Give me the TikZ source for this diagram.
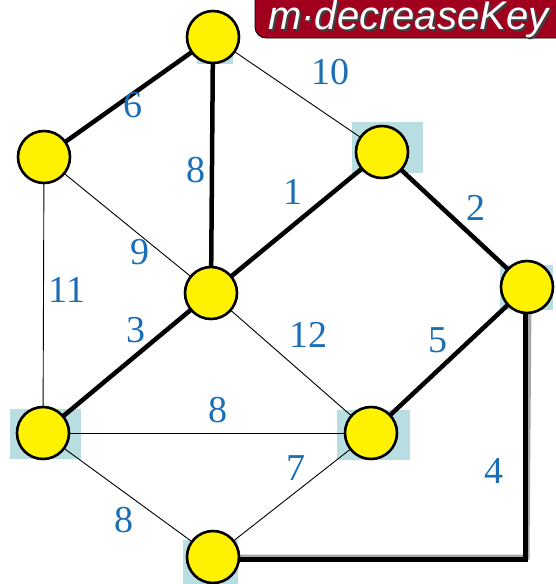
\documentclass[tikz,border=0pt]{standalone}
\usepackage{fontspec}
\setmainfont{Liberation Serif}
\newfontfamily\titlefont{Liberation Sans}
\begin{document}
\begin{tikzpicture}[x=1pt,y=-1pt,
  vert/.style={circle,draw=black,line width=2.6pt,fill=yellow,minimum size=52pt,inner sep=0pt},
  thin edge/.style={line width=0.9pt,draw=black},
  thick edge/.style={line width=4.5pt,draw=black},
  wt/.style={text=wcol,font=\fontsize{38}{38}\selectfont,inner sep=0pt}]
\definecolor{wcol}{RGB}{26,110,181}
\definecolor{hlcol}{RGB}{185,222,226}
\definecolor{titlered}{RGB}{160,0,30}
\useasboundingbox (0,0) rectangle (556,584);
\begin{scope}
\clip (0,0) rectangle (556,584);
% title
\draw[fill=titlered,draw=black,line width=0.8pt,rounded corners=11pt] (255,-20) rectangle (580,38);
\node[anchor=base west,text=white,font=\titlefont\itshape\fontsize{40}{40}\selectfont,inner sep=0pt] (title) at (268,29)
  {\makebox[0pt][l]{\hspace{2pt}\raisebox{-2pt}{\color{black!75}m·decreaseKey}}m·decreaseKey};
% highlight rects
\fill[hlcol] (352,122) rectangle (423,173);
\fill[hlcol] (10,409) rectangle (81,459);
\fill[hlcol] (337,410) rectangle (410,460);
\fill[hlcol] (183,540) rectangle (238,584);
\fill[hlcol] (500,265) rectangle (553,310);
\fill[hlcol] (197,30) rectangle (233,64);
% coordinates
\coordinate (T) at (213,37);
\coordinate (UL) at (44,157);
\coordinate (UR) at (382,152);
\coordinate (C) at (211,293);
\coordinate (R) at (527,287);
\coordinate (LL) at (43,433);
\coordinate (LR) at (371,433);
\coordinate (B) at (213,557);
\coordinate (corner) at (525,559);
% edges
\draw[thin edge] (T) -- (UR);
\draw[thin edge] (UL) -- (C);
\draw[thin edge] (UL) -- (LL);
\draw[thin edge] (C) -- (LR);
\draw[thin edge] (LL) -- (LR);
\draw[thin edge] (LL) -- (B);
\draw[thin edge] (LR) -- (B);
\draw[thick edge] (T) -- (UL);
\draw[thick edge] (T) -- (C);
\draw[thick edge] (UR) -- (C);
\draw[thick edge] (UR) -- (R);
\draw[thick edge] (C) -- (LL);
\draw[thick edge] (R) -- (LR);
\draw[line width=5pt,draw=black!35] ([xshift=2pt,yshift=2pt]B |- corner) -- ([xshift=2pt,yshift=2pt]corner) -- ([xshift=2pt]R |- 0,300);
\draw[thick edge,line width=5pt] (B |- corner) -- (corner) -- (corner |- R);
% vertices
\node[vert] (nT) at (T) {};
\node[vert] (nUL) at (UL) {};
\node[vert] (nUR) at (UR) {};
\node[vert] (nC) at (C) {};
\node[vert] (nR) at (R) {};
\node[vert] (nLL) at (LL) {};
\node[vert] (nLR) at (LR) {};
\node[vert] (nB) at (B) {};
% weights
\node[wt] (w1) at (133,105) {6};
\node[wt] (w2) at (330,72) {10};
\node[wt] (w3) at (196,170) {8};
\node[wt] (w4) at (293,192) {1};
\node[wt] (w5) at (476,208) {2};
\node[wt] (w6) at (140,252) {9};
\node[wt] (w7) at (67,290) {11};
\node[wt] (w8) at (136,330) {3};
\node[wt] (w9) at (308,335) {12};
\node[wt] (w10) at (438,340) {5};
\node[wt] (w11) at (218,410) {8};
\node[wt] (w12) at (296,468) {7};
\node[wt] (w13) at (494,471) {4};
\node[wt] (w14) at (124,520) {8};
\end{scope}
\end{tikzpicture}
\end{document}
